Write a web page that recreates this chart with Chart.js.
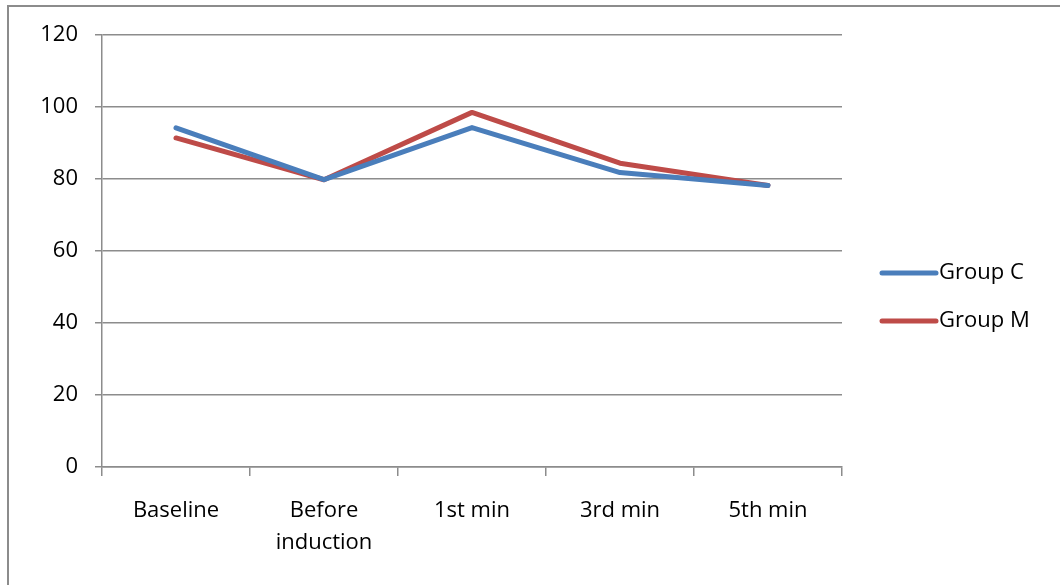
<!DOCTYPE html>
<html>
<head>
<meta charset="utf-8">
<script src="https://cdn.jsdelivr.net/npm/chart.js@4"></script>
<style>
  html, body { margin: 0; padding: 0; background: #fff; }
  #wrap { position: relative; width: 1060px; height: 585px; overflow: hidden; }
  #frame { position: absolute; left: 7px; top: 5px; width: 1100px; height: 640px;
           border: 2px solid #8c8c8c; box-sizing: border-box; }
  canvas { position: absolute; left: 0; top: 0; }
</style>
</head>
<body>
<div id="wrap">
  <div id="frame"></div>
  <canvas id="c" width="1060" height="585"></canvas>
</div>
<script>
// Time points on the x axis
const categories = ["Baseline", ["Before", "induction"], "1st min", "3rd min", "5th min"];
// Series values
const groupC = [94.2, 79.8, 94.3, 81.8, 78.2];
const groupM = [91.4, 79.8, 98.5, 84.4, 78.2];
const seriesNames = ["Group C", "Group M"];
// Y axis ticks
const yTicks = [0, 20, 40, 60, 80, 100, 120];

const FONT = "'Open Sans', sans-serif";
const GRID = "#8c8c8c";

// Legend drawn at the right of the plot, one line sample per series
const sideLegend = {
  id: "sideLegend",
  afterDraw(chart) {
    const ctx = chart.ctx;
    const area = chart.chartArea;
    const x0 = area.right + 40, x1 = area.right + 94;
    const rowsY = [273, 321];
    ctx.save();
    chart.data.datasets.forEach((ds, i) => {
      const y = rowsY[i];
      ctx.strokeStyle = ds.borderColor;
      ctx.lineWidth = 5;
      ctx.lineCap = "round";
      ctx.beginPath();
      ctx.moveTo(x0, y);
      ctx.lineTo(x1, y);
      ctx.stroke();
      ctx.fillStyle = "#000";
      ctx.font = "22px " + FONT;
      ctx.textBaseline = "middle";
      ctx.textAlign = "left";
      ctx.fillText(ds.label, x1 + 3, y);
    });
    ctx.restore();
  }
};

new Chart(document.getElementById("c"), {
  type: "line",
  data: {
    labels: categories,
    datasets: [
      { label: seriesNames[0], data: groupC, borderColor: "#4a7ebb", borderWidth: 5,
        pointRadius: 0, tension: 0, borderJoinStyle: "round", borderCapStyle: "round" },
      { label: seriesNames[1], data: groupM, borderColor: "#be4b48", borderWidth: 5,
        pointRadius: 0, tension: 0, borderJoinStyle: "round", borderCapStyle: "round" }
    ]
  },
  options: {
    responsive: false,
    animation: false,
    events: [],
    layout: { padding: { top: 35, right: 218, bottom: 0, left: 0 } },
    plugins: { legend: { display: false }, tooltip: { enabled: false } },
    scales: {
      x: {
        offset: true,
        grid: { offset: true, drawOnChartArea: false, drawTicks: true, tickLength: 9,
                color: GRID, lineWidth: 1.5 },
        border: { color: GRID, width: 1.5 },
        ticks: { color: "#000", font: { family: FONT, size: 22, lineHeight: 1.45 }, padding: 19,
                 maxRotation: 0, autoSkip: false },
        afterFit(s) { s.height = 118; }
      },
      y: {
        min: 0, max: 120,
        afterBuildTicks(s) { s.ticks = yTicks.map(v => ({ value: v })); },
        grid: { color: GRID, lineWidth: 1.5, tickLength: 7 },
        border: { color: GRID, width: 1.5 },
        ticks: { color: "#000", font: { family: FONT, size: 22 }, padding: 17 },
        afterFit(s) { s.width = 102; }
      }
    }
  },
  plugins: [sideLegend]
});
</script>
</body>
</html>
